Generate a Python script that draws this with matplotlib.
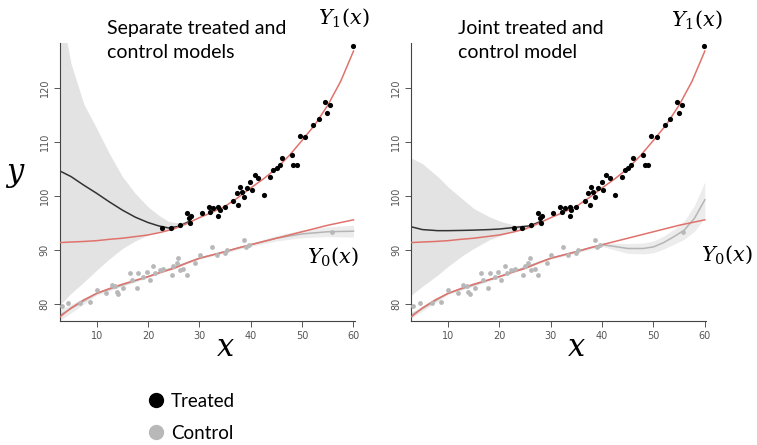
import matplotlib
matplotlib.use('Agg')
from matplotlib import pyplot as plt
from matplotlib.lines import Line2D

plt.rcParams['mathtext.fontset'] = 'dejavuserif'

# observed points
treated_x = [22.8, 24.4, 26.2, 27.5, 27.9, 28.2, 28.3, 30.5, 31.8, 32.1, 32.7, 33.7, 33.7, 34.0,
             35.0, 36.6, 37.3, 37.6, 37.9, 38.2, 38.6, 39.2, 39.9, 40.2, 40.8, 41.5, 42.5, 43.8,
             44.4, 45.1, 45.7, 46.0, 48.0, 48.3, 49.0, 49.6, 50.6, 52.2, 53.2, 54.5, 54.9, 55.5, 59.9]
treated_y = [94.0, 94.0, 94.6, 96.8, 95.9, 95.0, 96.3, 96.8, 98.0, 97.1, 97.7, 98.0, 96.3, 97.4,
             97.9, 99.0, 100.5, 98.3, 101.7, 100.8, 99.9, 101.4, 102.6, 101.1, 103.9, 103.3, 100.2, 103.6,
             104.8, 105.1, 105.7, 107.0, 107.6, 105.7, 105.7, 111.1, 111.0, 113.1, 114.3, 117.4, 115.3, 116.8, 127.7]
control_x = [3.2, 4.5, 6.8, 8.7, 10.0, 11.9, 12.9, 13.6, 13.9, 14.2, 15.2, 16.5, 16.8, 17.8, 18.1,
             19.1, 19.7, 20.4, 21.0, 21.4, 22.3, 23.0, 24.6, 24.9, 25.6, 25.9, 26.2, 26.9, 27.5,
             29.2, 30.1, 32.4, 33.4, 35.0, 35.3, 38.6, 39.0, 39.6, 55.8]
control_y = [79.6, 80.2, 80.2, 80.5, 82.6, 82.0, 83.6, 83.3, 82.3, 81.9, 83.0, 85.7, 84.5, 83.0, 85.7,
             85.1, 86.0, 84.5, 87.0, 85.7, 86.3, 86.6, 85.4, 87.0, 87.6, 88.5, 86.3, 86.6, 85.4,
             87.6, 89.1, 90.6, 89.1, 89.4, 90.0, 91.9, 90.6, 91.0, 93.4]

# true curves
curve_x = [2.9, 5, 7.5, 10, 12.5, 15, 17.5, 20, 22.5, 25, 27.5, 30, 32.5, 35, 37.5, 40, 42.5, 45,
           47.5, 50, 52.5, 55, 57.5, 60]
y1_true = [91.4, 91.5, 91.6, 91.75, 92.0, 92.2, 92.5, 92.8, 93.3, 93.9, 94.9, 96.0, 97.0, 98.1, 99.7,
           101.5, 103.2, 105.1, 107.5, 110.3, 113.2, 116.8, 121.2, 126.8]
y0_true = [77.7, 79.3, 80.8, 82.0, 82.9, 83.7, 84.4, 85.1, 85.9, 86.6, 87.6, 88.5, 89.1, 89.7, 90.4,
           91.0, 91.6, 92.2, 92.8, 93.4, 94.0, 94.6, 95.1, 95.6]

# separate models fit
sep_x = [2.9, 5, 7.5, 10, 12.5, 15, 17.5, 20, 22, 24, 26, 28]
sep_y1 = [104.6, 103.6, 102.0, 100.5, 98.9, 97.4, 96.1, 95.1, 94.5, 94.1, 94.4, 95.3]
sep_hi = [135.0, 124.5, 117.0, 112.5, 107.8, 103.6, 100.5, 98.0, 96.5, 95.3, 95.0, 95.6]
sep_lo = [79.9, 82.0, 84.1, 86.3, 88.4, 90.3, 91.7, 92.8, 93.5, 93.9, 94.2, 95.0]
sep_y0x = [2.9, 10, 20, 30, 40, 45, 50, 55, 60]
sep_y0 = [78.0, 82.0, 85.1, 88.5, 91.0, 92.2, 93.0, 93.4, 93.5]
sep_y0_hi = [79.0, 82.3, 85.3, 88.7, 91.3, 92.7, 93.7, 94.3, 94.6]
sep_y0_lo = [77.0, 81.7, 84.9, 88.3, 90.7, 91.7, 92.3, 92.5, 92.4]

# joint model fit
jnt_x = [2.9, 5, 8, 10, 13, 15, 18, 20, 23, 26, 28]
jnt_y1 = [94.3, 93.8, 93.6, 93.6, 93.65, 93.7, 93.8, 93.9, 94.2, 94.5, 95.3]
jnt_hi = [107.0, 106.0, 103.6, 101.7, 99.3, 97.7, 96.2, 95.4, 94.6, 94.6, 95.6]
jnt_lo = [81.7, 83.3, 85.4, 87.0, 89.1, 90.3, 91.9, 92.6, 93.5, 94.0, 95.0]
jnt_y0x = [2.9, 10, 20, 30, 40, 43, 45, 48, 50, 52, 54, 56, 58, 60]
jnt_y0 = [78.0, 82.0, 85.1, 88.5, 91.0, 90.6, 90.3, 90.3, 90.6, 91.4, 92.5, 93.7, 95.9, 99.3]
jnt_y0_hi = [78.6, 82.2, 85.3, 88.7, 91.3, 91.3, 91.2, 91.3, 91.7, 92.6, 93.9, 95.4, 98.3, 102.6]
jnt_y0_lo = [77.4, 81.8, 84.9, 88.3, 90.7, 89.9, 89.4, 89.3, 89.5, 90.2, 91.1, 92.0, 93.5, 96.0]

red = '#e0726c'
band = '#e3e3e3'

fig = plt.figure(figsize=(7.57, 4.45), dpi=100)

panels = [
    (0.0793, 'Separate treated and\ncontrol models', sep_x, sep_y1, sep_hi, sep_lo,
     sep_y0x, sep_y0, sep_y0_hi, sep_y0_lo),
    (0.5434, 'Joint treated and\ncontrol model', jnt_x, jnt_y1, jnt_hi, jnt_lo,
     jnt_y0x, jnt_y0, jnt_y0_hi, jnt_y0_lo),
]

for left, title, fx, fy1, fhi, flo, gx, gy0, ghi, glo in panels:
    ax = fig.add_axes([left, 0.2787, 0.3897, 0.6247])
    ax.fill_between(fx, flo, fhi, color=band, lw=0, zorder=1)
    ax.fill_between(gx, glo, ghi, color='#ececec', lw=0, zorder=1)
    ax.plot(gx, gy0, color='#b5b5b5', lw=1.1, zorder=2)
    ax.plot(fx, fy1, color='#333333', lw=1.1, zorder=2)
    ax.plot(curve_x, y1_true, color=red, lw=1.1, zorder=3)
    ax.plot(curve_x, y0_true, color=red, lw=1.1, zorder=3)
    ax.scatter(control_x, control_y, s=12, color='#b8b8b8', lw=0, zorder=4)
    ax.scatter(treated_x, treated_y, s=14, color='black', lw=0, zorder=5)

    ax.set_xlim(2.86, 60.3)
    ax.set_ylim(76.9, 128.3)
    ax.set_xticks([10, 20, 30, 40, 50, 60])
    ax.set_yticks([80, 90, 100, 110, 120])
    ax.tick_params(labelsize=7, colors='#555555', length=4, width=0.7)
    for lab in ax.get_yticklabels():
        lab.set_rotation(90)
        lab.set_va('center')
    for s in ['top', 'right']:
        ax.spines[s].set_visible(False)
    for s in ['left', 'bottom']:
        ax.spines[s].set_color('#444444')
        ax.spines[s].set_linewidth(0.8)

    px = left * 757
    fig.text((px + 47) / 757, 1 - 20 / 445, title, fontsize=14, family='Lato',
             va='top', ha='left', linespacing=1.5)
    fig.text((px + 165) / 757, 1 - 347 / 445, r'$x$', fontsize=22, ha='center', va='center')

fig.text(15 / 757, 1 - 175 / 445, r'$y$', fontsize=22, ha='center', va='center')
fig.text(318 / 757, 1 - 18 / 445, r'$Y_1(x)$', fontsize=15, ha='left', va='center')
fig.text(307 / 757, 1 - 257 / 445, r'$Y_0(x)$', fontsize=15, ha='left', va='center')
fig.text(671 / 757, 1 - 20 / 445, r'$Y_1(x)$', fontsize=15, ha='left', va='center')
fig.text(701 / 757, 1 - 255 / 445, r'$Y_0(x)$', fontsize=15, ha='left', va='center')

handles = [Line2D([], [], marker='o', ls='', color='black', markersize=10),
           Line2D([], [], marker='o', ls='', color='#b8b8b8', markersize=10)]
fig.legend(handles, ['Treated', 'Control'], loc='upper left',
           bbox_to_anchor=(128 / 757, 1 - 376 / 445), frameon=False,
           prop={'family': 'Lato', 'size': 13.5}, handletextpad=0.2, labelspacing=0.8,
           handlelength=1.2)

plt.savefig('out.png', dpi=100)
